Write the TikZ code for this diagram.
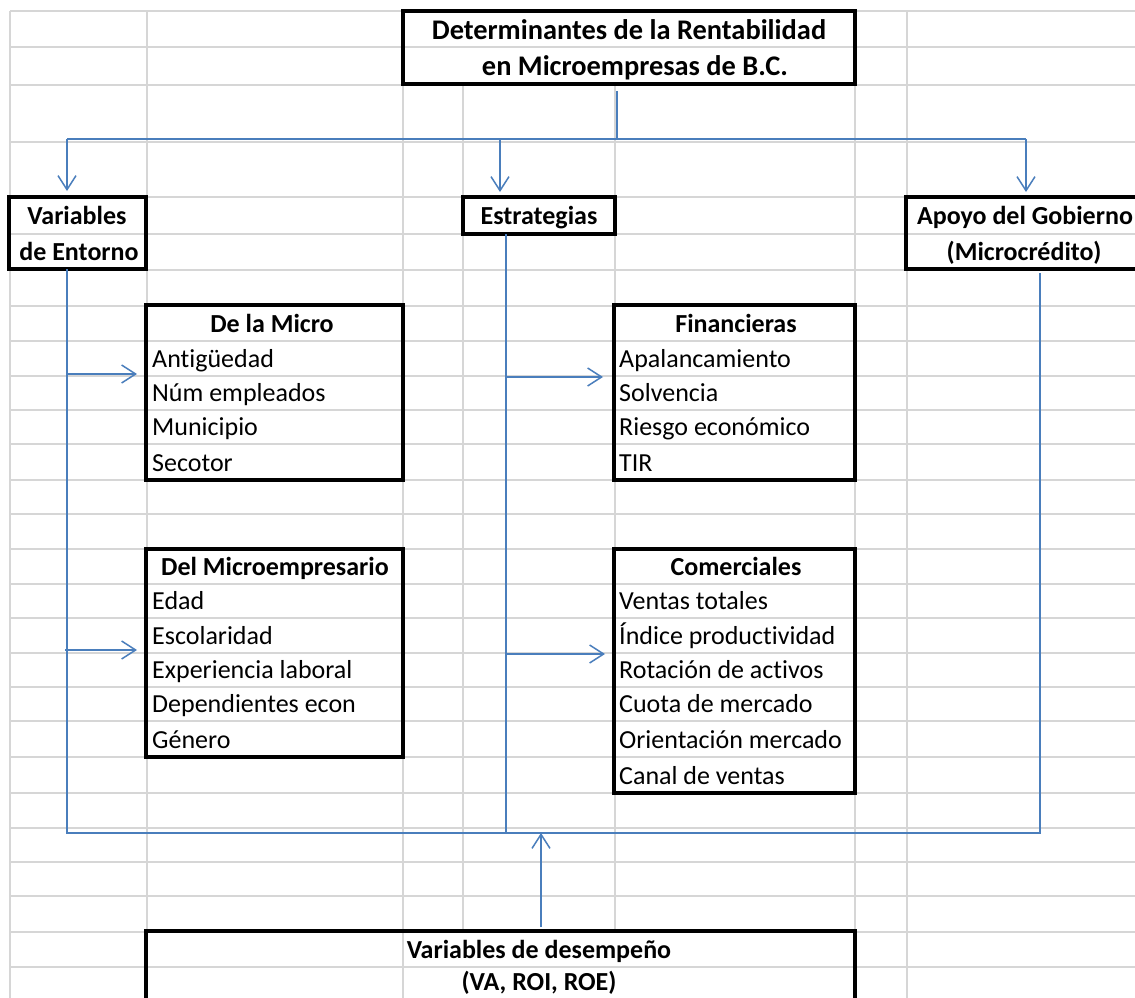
\documentclass[tikz,border=0pt]{standalone}
\usepackage{fontspec}
\setmainfont{Carlito}[Ligatures=CommonOff]
\usetikzlibrary{arrows.meta}
\definecolor{lineblue}{RGB}{74,126,188}
\definecolor{gridgray}{RGB}{214,214,214}
\begin{document}
\begin{tikzpicture}[x=1pt,y=-1pt,
  box/.style 2 args={draw=black, line width=3.5pt, anchor=north west, inner sep=0pt, outer sep=0pt, minimum width=#1, minimum height=#2},
  txt/.style={font=\fontsize{26}{31}\selectfont, inner sep=0pt, anchor=base west},
  head/.style={font=\fontsize{26}{31}\selectfont\bfseries, inner sep=0pt, anchor=base},
  bighead/.style={head, font=\fontsize{28.4}{34}\selectfont\bfseries},
  conn/.style={draw=lineblue, line width=1.5pt},
  flow/.style={conn, -{Straight Barb[length=14pt,width=18pt]}}]
\fill[white] (0,0) rectangle (1135,998);
\useasboundingbox (0,0) rectangle (1135,998);
% sheet grid
\draw[gridgray, line width=2pt]
  (10,11) -- (1135,11) (10,47) -- (1135,47) (10,85) -- (1135,85) (10,142) -- (1135,142)
  (10,197) -- (1135,197) (10,234) -- (1135,234) (10,270) -- (1135,270) (10,306) -- (1135,306)
  (10,341) -- (1135,341) (10,376) -- (1135,376) (10,410) -- (1135,410) (10,444) -- (1135,444)
  (10,480) -- (1135,480) (10,514) -- (1135,514) (10,549) -- (1135,549) (10,584) -- (1135,584)
  (10,618) -- (1135,618) (10,653) -- (1135,653) (10,687) -- (1135,687) (10,721) -- (1135,721)
  (10,757) -- (1135,757) (10,793) -- (1135,793) (10,828) -- (1135,828) (10,862) -- (1135,862)
  (10,896) -- (1135,896) (10,932) -- (1135,932) (10,967) -- (1135,967)
  (10,11) -- (10,998) (147,11) -- (147,998) (403,11) -- (403,998) (463,84) -- (463,931)
  (615,84) -- (615,931) (855,11) -- (855,998) (907,11) -- (907,998);
% boxes
\node[box={452}{73}] (title) at (403,11) {};
\node[box={137}{72}] (entorno) at (9,197) {};
\node[box={152}{37}] (estrat) at (463,197) {};
\node[box={238}{72}] (apoyo) at (906,197) {};
\node[box={257}{175}] (micro) at (146,305) {};
\node[box={257}{208}] (empres) at (146,549) {};
\node[box={241}{175}] (finan) at (614,305) {};
\node[box={241}{244}] (comer) at (614,549) {};
\node[box={709}{110}] (desemp) at (146,931) {};
% texts
\node[bighead] (titleA) at (629,40) {Determinantes de la Rentabilidad};
\node[bighead] (titleB) at (635,76) {en Microempresas de B.C.};
\node[head] (entA) at (77,224) {Variables};
\node[head] (entB) at (79,260) {de Entorno};
\node[head] (estA) at (539,224) {Estrategias};
\node[head] (apoA) at (1025,224) {Apoyo del Gobierno};
\node[head] (apoB) at (1024,260) {(Microcrédito)};
\node[head] (microH) at (272,332) {De la Micro};
\node[txt] (micro1) at (152,367) {Antigüedad};
\node[txt] (micro2) at (152,401) {Núm empleados};
\node[txt] (micro3) at (152,435) {Municipio};
\node[txt] (micro4) at (152,471) {Secotor};
\node[head] (empresH) at (275,575) {Del Microempresario};
\node[txt] (empres1) at (152,609) {Edad};
\node[txt] (empres2) at (152,644) {Escolaridad};
\node[txt] (empres3) at (152,678) {Experiencia laboral};
\node[txt] (empres4) at (152,712) {Dependientes econ};
\node[txt] (empres5) at (152,748) {Género};
\node[head] (finanH) at (736,332) {Financieras};
\node[txt] (finan1) at (619,367) {Apalancamiento};
\node[txt] (finan2) at (619,401) {Solvencia};
\node[txt] (finan3) at (619,435) {Riesgo económico};
\node[txt] (finan4) at (619,471) {TIR};
\node[head] (comerH) at (736,575) {Comerciales};
\node[txt] (comer1) at (619,609) {Ventas totales};
\node[txt] (comer2) at (619,644) {Índice productividad};
\node[txt] (comer3) at (619,678) {Rotación de activos};
\node[txt] (comer4) at (619,712) {Cuota de mercado};
\node[txt] (comer5) at (619,748) {Orientación mercado};
\node[txt] (comer6) at (619,784) {Canal de ventas};
\node[head] (desempA) at (539,958) {Variables de desempeño};
\node[head] (desempB) at (539,990) {(VA, ROI, ROE)};
% connector corners
\coordinate (split) at (617,139);
\coordinate (toL) at (67,139);
\coordinate (toM) at (500,139);
\coordinate (toR) at (1026,139);
\coordinate (joinL) at (67,833);
\coordinate (joinM) at (506,833);
\coordinate (joinU) at (541,833);
\coordinate (joinR) at (1040,833);
\coordinate (tapL1) at (67,374);
\coordinate (tapL2) at (65,650);
\coordinate (tapM1) at (505,377);
\coordinate (tapM2) at (506,654);
% connectors
\draw[conn] ([yshift=-7pt]title.south -| split) -- (split);
\draw[conn] (toL) -- (toR);
\draw[flow, shorten >=6pt] (toL) -- (toL |- entorno.north);
\draw[flow, shorten >=5pt] (toM) -- (toM |- estrat.north);
\draw[flow, shorten >=5pt] (toR) -- (toR |- apoyo.north);
\draw[conn] (entorno.south -| joinL) -- (joinL) -- (joinR) -- ([yshift=-4pt]apoyo.south -| joinR);
\draw[conn] (estrat.south -| joinM) -- (joinM);
\draw[flow, shorten <=4pt] (desemp.north -| joinU) -- (joinU);
\draw[flow, shorten >=9pt] (tapL1) -- (tapL1 -| micro.west);
\draw[flow, shorten >=9pt] (tapL2) -- (tapL2 -| empres.west);
\draw[flow, shorten >=11pt] (tapM1) -- (tapM1 -| finan.west);
\draw[flow, shorten >=9pt] (tapM2) -- (tapM2 -| comer.west);
\end{tikzpicture}
\end{document}
